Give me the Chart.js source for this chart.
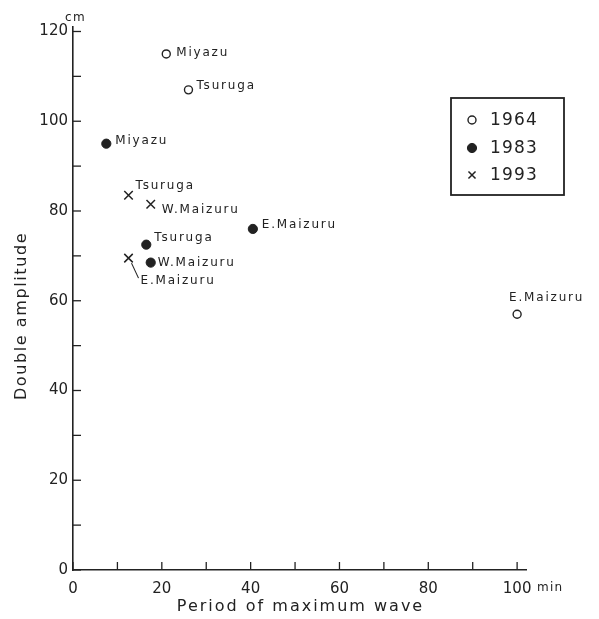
<!DOCTYPE html>
<html>
<head>
<meta charset="utf-8">
<script src="https://cdn.jsdelivr.net/npm/chart.js@4/dist/chart.umd.min.js"></script>
<style>
  html, body { margin: 0; padding: 0; background: #ffffff; }
  canvas { display: block; }
</style>
</head>
<body>
<canvas id="c" width="599" height="619"></canvas>
<script>
// ---- data ----
const years = ['1964', '1983', '1993'];

const sites1964   = ['Miyazu', 'Tsuruga', 'E.Maizuru'];
const periods1964 = [21, 26, 100];
const amps1964    = [115, 107, 57];

const sites1983   = ['Miyazu', 'E.Maizuru', 'Tsuruga', 'W.Maizuru'];
const periods1983 = [7.5, 40.5, 16.5, 17.5];
const amps1983    = [95, 76, 72.5, 68.5];

const sites1993   = ['Tsuruga', 'W.Maizuru', 'E.Maizuru'];
const periods1993 = [12.5, 17.5, 12.5];
const amps1993    = [83.5, 81.5, 69.5];

const xTickValues = [0, 10, 20, 30, 40, 50, 60, 70, 80, 90, 100];
const yTickValues = [0, 10, 20, 30, 40, 50, 60, 70, 80, 90, 100, 110, 120];
const xTitle = 'Period of maximum wave';
const yTitle = 'Double amplitude';
const xUnit = 'min';
const yUnit = 'cm';

// ---- styling ----
const INK = '#222222';
const FONT = '"DejaVu Sans", "Noto Sans", sans-serif';

// label placement (pixels relative to the marker): [dx to text start, dy to text middle]
const labelOffsets = [
  [[10, -1], [8, -4], [-8, -16]],
  [[9, -3], [9, -4], [8, -7], [7, 0]],
  [[7, -9], [11, 6], [12, 23]]
];

function pts(xs, ys) { return xs.map((x, i) => ({ x: x, y: ys[i] })); }

const datasets = [
  { label: years[0], data: pts(periods1964, amps1964), sites: sites1964,
    pointStyle: 'circle', pointRadius: 4, pointBorderWidth: 1.4,
    pointBackgroundColor: '#ffffff', pointBorderColor: INK, legendRadius: 4 },
  { label: years[1], data: pts(periods1983, amps1983), sites: sites1983,
    pointStyle: 'circle', pointRadius: 4.6, pointBorderWidth: 1,
    pointBackgroundColor: INK, pointBorderColor: INK, legendRadius: 4.6 },
  { label: years[2], data: pts(periods1993, amps1993), sites: sites1993,
    pointStyle: 'crossRot', pointRadius: 6, pointBorderWidth: 1.5,
    pointBackgroundColor: INK, pointBorderColor: INK, legendRadius: 5 }
];

function spacedText(ctx, text, x, y, spacing) {
  ctx.letterSpacing = spacing + 'px';
  ctx.fillText(text, x, y);
  ctx.letterSpacing = '0px';
}

const decor = {
  id: 'decor',
  beforeDraw(chart) {
    const ctx = chart.ctx;
    ctx.save();
    ctx.fillStyle = '#ffffff';
    ctx.fillRect(0, 0, chart.width, chart.height);
    ctx.restore();
  },
  afterDraw(chart) {
    const ctx = chart.ctx;
    const xs = chart.scales.x, ys = chart.scales.y;
    const area = chart.chartArea;
    ctx.save();
    ctx.strokeStyle = INK;
    ctx.fillStyle = INK;
    ctx.lineWidth = 1.3;

    // inward tick marks
    xs.ticks.forEach(t => {
      const px = xs.getPixelForValue(t.value);
      ctx.beginPath(); ctx.moveTo(px, area.bottom); ctx.lineTo(px, area.bottom - 8); ctx.stroke();
    });
    ys.ticks.forEach(t => {
      const py = ys.getPixelForValue(t.value);
      ctx.beginPath(); ctx.moveTo(area.left, py); ctx.lineTo(area.left + 8, py); ctx.stroke();
    });

    // point labels
    ctx.font = '12px ' + FONT;
    ctx.textBaseline = 'middle';
    ctx.textAlign = 'left';
    chart.data.datasets.forEach((ds, di) => {
      const meta = chart.getDatasetMeta(di);
      meta.data.forEach((el, i) => {
        const off = labelOffsets[di][i];
        spacedText(ctx, ds.sites[i], el.x + off[0], el.y + off[1], 1.8);
      });
    });
    // leader line for 1993 E.Maizuru
    {
      const el = chart.getDatasetMeta(2).data[2];
      ctx.lineWidth = 1.1;
      ctx.beginPath(); ctx.moveTo(el.x + 3, el.y + 5); ctx.lineTo(el.x + 10, el.y + 20); ctx.stroke();
    }

    // units
    ctx.font = '12px ' + FONT;
    ctx.textAlign = 'left';
    ctx.textBaseline = 'alphabetic';
    spacedText(ctx, yUnit, 65, 21, 1.5);
    spacedText(ctx, xUnit, 537, 591, 1.2);

    // axis titles
    ctx.font = '16px ' + FONT;
    ctx.textAlign = 'center';
    ctx.textBaseline = 'middle';
    spacedText(ctx, xTitle, (area.left + area.right) / 2 + 1, 607, 2);
    ctx.save();
    ctx.translate(22, 316);
    ctx.rotate(-Math.PI / 2);
    spacedText(ctx, yTitle, 0, 0, 1.6);
    ctx.restore();

    // legend box
    ctx.lineWidth = 1.8;
    ctx.strokeStyle = INK;
    ctx.strokeRect(451, 98, 113, 97);
    const rows = [120, 148, 175];
    ctx.font = '17px ' + FONT;
    ctx.textAlign = 'left';
    ctx.textBaseline = 'middle';
    chart.data.datasets.forEach((ds, di) => {
      ctx.save();
      ctx.fillStyle = ds.pointBackgroundColor;
      ctx.strokeStyle = ds.pointBorderColor;
      ctx.lineWidth = ds.pointBorderWidth;
      Chart.helpers.drawPoint(ctx, { pointStyle: ds.pointStyle, radius: ds.legendRadius, rotation: 0, borderWidth: ds.pointBorderWidth }, 472, rows[di]);
      ctx.restore();
      ctx.fillStyle = INK;
      spacedText(ctx, ds.label, 490, rows[di] + 1, 1.2);
    });
    ctx.restore();
  }
};

new Chart(document.getElementById('c'), {
  type: 'scatter',
  data: { datasets: datasets },
  options: {
    responsive: false,
    animation: false,
    events: [],
    layout: { padding: { top: 27, right: 73, left: 0, bottom: 0 } },
    plugins: { legend: { display: false }, tooltip: { enabled: false } },
    scales: {
      x: {
        type: 'linear', min: 0, max: 102,
        afterBuildTicks: s => { s.ticks = xTickValues.map(v => ({ value: v })); },
        afterFit: s => { s.height = 49; },
        grid: { display: false, drawTicks: false },
        border: { display: true, color: INK, width: 1.6 },
        ticks: {
          autoSkip: false, maxRotation: 0, padding: 10, color: INK,
          font: { family: FONT, size: 15 },
          callback: v => (v % 20 === 0 ? String(v) : '')
        }
      },
      y: {
        type: 'linear', min: 0, max: 121,
        afterBuildTicks: s => { s.ticks = yTickValues.map(v => ({ value: v })); },
        afterFit: s => { s.width = 73; },
        grid: { display: false, drawTicks: false },
        border: { display: true, color: INK, width: 1.6 },
        ticks: {
          autoSkip: false, padding: 5, color: INK,
          font: { family: FONT, size: 15 },
          callback: v => (v % 20 === 0 ? String(v) : '')
        }
      }
    }
  },
  plugins: [decor]
});
</script>
</body>
</html>
